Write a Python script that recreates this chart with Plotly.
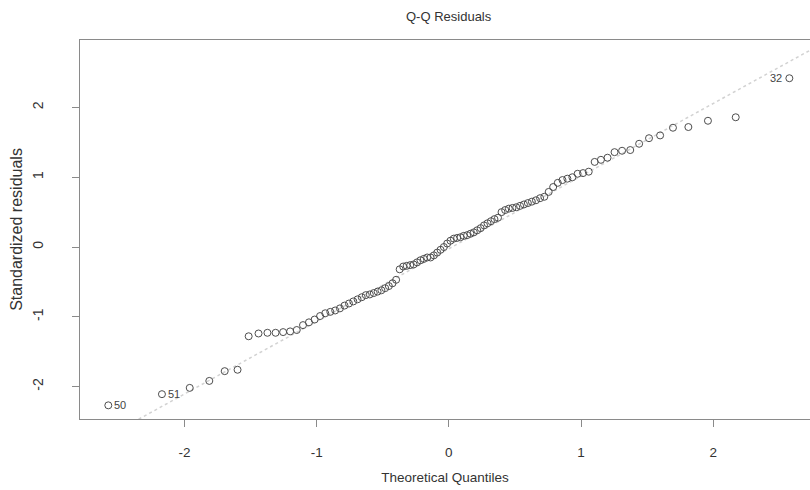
import plotly.graph_objects as go
from statistics import NormalDist
import numpy as np

# Sorted standardized residuals (n = 100)
residuals = [
    -2.27, -2.11, -2.02, -1.92, -1.78, -1.76, -1.28, -1.24, -1.23, -1.23,
    -1.22, -1.21, -1.19, -1.12, -1.08, -1.04, -0.99, -0.95, -0.93, -0.91,
    -0.88, -0.84, -0.81, -0.78, -0.75, -0.72, -0.69, -0.68, -0.66, -0.64,
    -0.62, -0.59, -0.56, -0.52, -0.47, -0.32, -0.28, -0.27, -0.26, -0.25,
    -0.22, -0.19, -0.17, -0.15, -0.15, -0.12, -0.08, -0.04, 0.00, 0.05,
    0.09, 0.12, 0.13, 0.14, 0.16, 0.17, 0.19, 0.21, 0.24, 0.27,
    0.31, 0.34, 0.37, 0.40, 0.42, 0.50, 0.53, 0.55, 0.56, 0.57,
    0.59, 0.61, 0.63, 0.65, 0.67, 0.70, 0.72, 0.79, 0.86, 0.92,
    0.96, 0.98, 1.00, 1.05, 1.06, 1.08, 1.22, 1.25, 1.28, 1.36,
    1.38, 1.39, 1.48, 1.56, 1.60, 1.71, 1.72, 1.81, 1.86, 2.42,
]
# Observation ids labelled on the plot (index in sorted order -> label)
label_index = [0, 1, 99]
label_text = ["50", "51", "32"]

x_ticks = [-2, -1, 0, 1, 2]
y_ticks = [-2, -1, 0, 1, 2]

nd = NormalDist()
n = len(residuals)
theoretical = [nd.inv_cdf((k + 0.5) / n) for k in range(n)]

# qqline through first and third quartiles (as R does)
q1, q3 = np.quantile(residuals, [0.25, 0.75])
z1, z3 = nd.inv_cdf(0.25), nd.inv_cdf(0.75)
slope = (q3 - q1) / (z3 - z1)
intercept = q1 - slope * z1
line_x = [-3.5, 3.5]
line_y = [intercept + slope * v for v in line_x]

FONT = "Liberation Sans, Arial, sans-serif"
TXT = "#333333"
AX = "#8a8a8a"

fig = go.Figure()
fig.add_trace(go.Scatter(
    x=line_x, y=line_y, mode="lines",
    line=dict(color="#d2d2d2", width=1.5, dash="dot"),
    hoverinfo="skip", showlegend=False,
))
fig.add_trace(go.Scatter(
    x=theoretical, y=residuals, mode="markers",
    marker=dict(symbol="circle-open", size=7, color="#4d4d4d", line=dict(width=1, color="#4d4d4d")),
    showlegend=False,
))

for idx, txt in zip(label_index, label_text):
    right = theoretical[idx] < 0
    fig.add_annotation(
        x=theoretical[idx], y=residuals[idx], xref="x", yref="y",
        text=txt, showarrow=False,
        xanchor="left" if right else "right",
        xshift=4 if right else -5,
        font=dict(family=FONT, size=11, color="#444444"),
    )

fig.add_annotation(
    x=0, y=1, xref="x", yref="paper", yanchor="bottom", yshift=14,
    text="Q-Q Residuals", showarrow=False,
    font=dict(family=FONT, size=13, color=TXT),
)

fig.update_layout(
    width=810, height=490,
    margin=dict(l=80, r=0, t=40, b=71),
    paper_bgcolor="white", plot_bgcolor="white",
    font=dict(family=FONT, color=TXT, size=13),
    xaxis=dict(
        range=[-2.79, 2.732], tickvals=x_ticks, ticktext=[str(v) for v in x_ticks],
        showgrid=False, zeroline=False, showline=True, linecolor=AX, linewidth=1.3,
        mirror=True, ticks="outside", ticklen=7, tickcolor=AX, tickwidth=1,
        ticklabelstandoff=14, tickfont=dict(size=13.5),
        title=dict(text="Theoretical Quantiles", standoff=13, font=dict(size=13.5)),
    ),
    yaxis=dict(
        range=[-2.466, 2.968], tickvals=y_ticks, ticktext=[str(v) for v in y_ticks],
        showgrid=False, zeroline=False, showline=True, linecolor=AX, linewidth=1.3,
        ticks="outside", ticklen=7, tickcolor=AX, tickwidth=1, tickangle=-90,
        ticklabelstandoff=23, tickfont=dict(size=14),
        title=dict(text="Standardized residuals", standoff=3, font=dict(size=16)),
    ),
)

fig.write_html("out.html")
